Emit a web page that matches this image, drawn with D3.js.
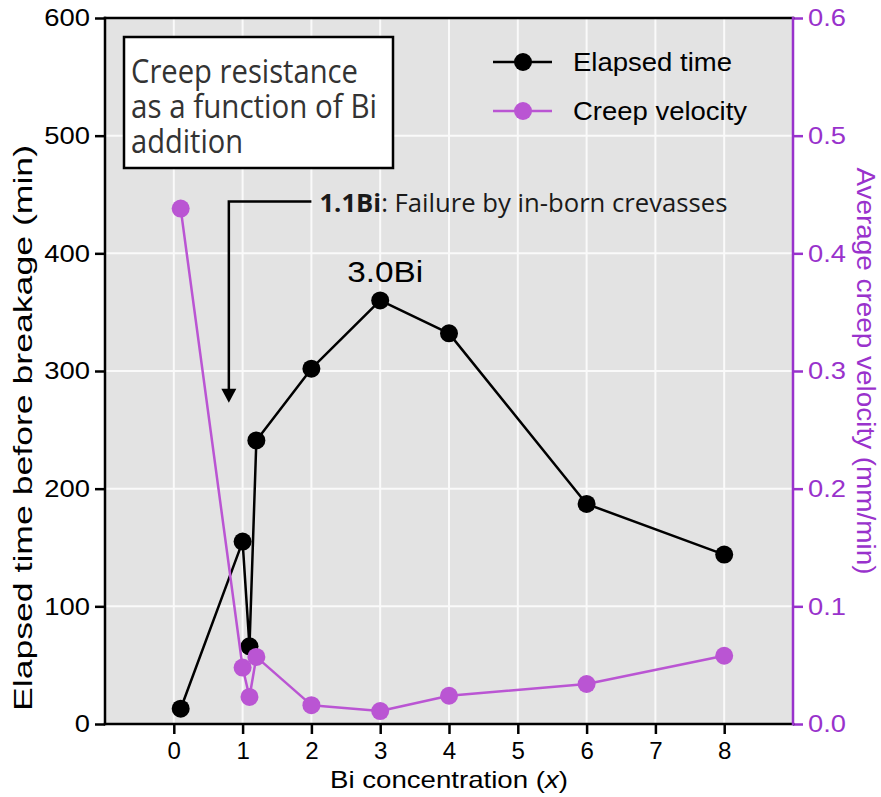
<!DOCTYPE html>
<html>
<head>
<meta charset="utf-8">
<script src="https://cdn.jsdelivr.net/npm/d3@7"></script>
<style>
  body { margin: 0; background: #fff; }
  svg { display: block; }
</style>
</head>
<body>
<svg id="chart" width="881" height="797"></svg>
<script>
// Bi content of each alloy (x in Sn–xBi)
const concentration = [0.1, 1.0, 1.1, 1.2, 2, 3, 4, 6, 8];
// Elapsed time before breakage (min)
const elapsedTime = [13, 155, 66, 241, 302, 360, 332, 187, 144];
// Average creep velocity (mm/min)
const creepVelocity = [0.438, 0.048, 0.023, 0.057, 0.016, 0.011, 0.024, 0.034, 0.058];

const xTicks = [0, 1, 2, 3, 4, 5, 6, 7, 8];
const leftTicks = [0, 100, 200, 300, 400, 500, 600];
const rightTicks = [0, 0.1, 0.2, 0.3, 0.4, 0.5, 0.6];
const seriesNames = ["Elapsed time", "Creep velocity"];
const boxLines = ["Creep resistance", "as a function of Bi", "addition"];

const W = 881, H = 797;
const margin = { top: 18, right: 88, bottom: 73, left: 105 };
const FONT = "'Liberation Sans', Arial, sans-serif";
const NOTE_FONT = "'Open Sans', 'Noto Sans', sans-serif";
const BLACK = "#000";
const AXIS_PURPLE = "#9932CC";
const SERIES_PURPLE = "#BA55D3";

const svg = d3.select("#chart");

// widen glyphs by factor k (the typeface used here is set wider than Arial)
function stretch(sel, k) {
  sel.each(function () {
    const L = this.getComputedTextLength();
    this.setAttribute("textLength", (L * k).toFixed(1));
    this.setAttribute("lengthAdjust", "spacingAndGlyphs");
  });
}
function fitTo(sel, width) {
  sel.attr("textLength", width).attr("lengthAdjust", "spacingAndGlyphs");
}

const x = d3.scaleLinear().domain([-1, 9]).range([margin.left, W - margin.right]);
const yL = d3.scaleLinear().domain([0, 600]).range([H - margin.bottom, margin.top]);
const yR = d3.scaleLinear().domain([0, 0.6]).range([H - margin.bottom, margin.top]);

const [x0, x1] = x.range();
const [yb, yt] = yL.range();

// panel
svg.append("rect")
  .attr("x", x0).attr("y", yt)
  .attr("width", x1 - x0).attr("height", yb - yt)
  .attr("fill", "#e3e3e3");

// grid
const grid = svg.append("g").attr("stroke", "#fafafa").attr("stroke-width", 2);
grid.selectAll(".gx").data(xTicks).join("line")
  .attr("x1", d => x(d)).attr("x2", d => x(d))
  .attr("y1", yt).attr("y2", yb);
grid.selectAll(".gy").data(leftTicks.filter(d => d > 0 && d < 600)).join("line")
  .attr("x1", x0).attr("x2", x1)
  .attr("y1", d => yL(d)).attr("y2", d => yL(d));

// axes
function styleAxis(g, color, size, k) {
  g.select(".domain").remove();
  g.selectAll(".tick line").attr("stroke", color).attr("stroke-width", 2.5);
  g.selectAll(".tick text").attr("fill", color)
    .style("font-family", FONT).style("font-size", size + "px")
    .call(stretch, k);
}

svg.append("g")
  .attr("transform", `translate(${x0},0)`)
  .call(d3.axisLeft(yL).tickValues(leftTicks).tickSize(10).tickPadding(5).tickFormat(d3.format("d")))
  .call(g => styleAxis(g, BLACK, 24, 1.14));

svg.append("g")
  .attr("transform", `translate(0,${yb})`)
  .call(d3.axisBottom(x).tickValues(xTicks).tickSize(10).tickPadding(9).tickFormat(d3.format("d")))
  .call(g => styleAxis(g, BLACK, 23, 1.05));

svg.append("g")
  .attr("transform", `translate(${x1},0)`)
  .call(d3.axisRight(yR).tickValues(rightTicks).tickSize(10).tickPadding(5).tickFormat(d3.format(".1f")))
  .call(g => styleAxis(g, AXIS_PURPLE, 24, 1.14));

// frame lines
const frame = svg.append("g").attr("stroke-width", 2.5).attr("stroke-linecap", "square");
frame.append("line").attr("x1", x0).attr("x2", x1).attr("y1", yt).attr("y2", yt).attr("stroke", BLACK);
frame.append("line").attr("x1", x0).attr("x2", x1).attr("y1", yb).attr("y2", yb).attr("stroke", BLACK);
frame.append("line").attr("x1", x0).attr("x2", x0).attr("y1", yt).attr("y2", yb).attr("stroke", BLACK);
frame.append("line").attr("x1", x1).attr("x2", x1).attr("y1", yt).attr("y2", yb).attr("stroke", AXIS_PURPLE);

// axis titles
svg.append("text")
  .attr("x", (x0 + x1) / 2).attr("y", 788)
  .attr("text-anchor", "middle")
  .style("font-family", FONT).style("font-size", "24px")
  .call(t => {
    t.append("tspan").text("Bi concentration (");
    t.append("tspan").style("font-style", "italic").text("x");
    t.append("tspan").text(")");
  })
  .call(fitTo, 238);

svg.append("text")
  .attr("transform", `translate(32,428) rotate(-90)`)
  .attr("text-anchor", "middle")
  .style("font-family", FONT).style("font-size", "25px")
  .text("Elapsed time before breakage (min)")
  .call(fitTo, 566);

svg.append("text")
  .attr("transform", `translate(857,${(yt + yb) / 2}) rotate(90)`)
  .attr("text-anchor", "middle")
  .attr("fill", AXIS_PURPLE)
  .style("font-family", FONT).style("font-size", "25px")
  .text("Average creep velocity (mm/min)")
  .call(fitTo, 407);

// series
const pts = concentration.map((c, i) => ({ c, t: elapsedTime[i], v: creepVelocity[i] }));

function drawSeries(yScale, key, color) {
  const g = svg.append("g");
  g.append("path")
    .datum(pts)
    .attr("fill", "none").attr("stroke", color).attr("stroke-width", 2.5)
    .attr("stroke-linejoin", "round")
    .attr("d", d3.line().x(d => x(d.c)).y(d => yScale(d[key])));
  g.selectAll("circle").data(pts).join("circle")
    .attr("cx", d => x(d.c)).attr("cy", d => yScale(d[key]))
    .attr("r", 9).attr("fill", color);
}
drawSeries(yL, "t", BLACK);
drawSeries(yR, "v", SERIES_PURPLE);

// legend
const legend = svg.append("g");
const legendWidths = [159, 174];
[BLACK, SERIES_PURPLE].forEach((color, i) => {
  const ly = 62 + i * 49;
  legend.append("line").attr("x1", 493).attr("x2", 552).attr("y1", ly).attr("y2", ly)
    .attr("stroke", color).attr("stroke-width", 2.5);
  legend.append("circle").attr("cx", 523).attr("cy", ly).attr("r", 9).attr("fill", color);
  legend.append("text").attr("x", 573).attr("y", ly + 9)
    .style("font-family", FONT).style("font-size", "26px")
    .text(seriesNames[i])
    .call(fitTo, legendWidths[i]);
});

// title box
const boxWidths = [227, 246, 112];
svg.append("rect")
  .attr("x", 124).attr("y", 37).attr("width", 269).attr("height", 131)
  .attr("fill", "#fff").attr("stroke", BLACK).attr("stroke-width", 2.5);
svg.selectAll(".boxline").data(boxLines).join("text")
  .attr("x", 131).attr("y", (d, i) => 83 + i * 35)
  .attr("fill", "#333")
  .style("font-family", NOTE_FONT).style("font-size", "32px")
  .text(d => d)
  .each(function (d, i) { d3.select(this).call(fitTo, boxWidths[i]); });

// peak label
const peak = pts[elapsedTime.indexOf(d3.max(elapsedTime))];
svg.append("text")
  .attr("x", x(peak.c) + 5).attr("y", yL(peak.t) - 18)
  .attr("text-anchor", "middle")
  .style("font-family", FONT).style("font-size", "30px")
  .text("3.0Bi")
  .call(fitTo, 76);

// failure note with elbow arrow (positions in data units)
const note = { textX: 2.0, lineY: 444, arrowX: 0.8, tipY: 273 };
svg.append("path")
  .attr("fill", "none").attr("stroke", BLACK).attr("stroke-width", 2.5)
  .attr("d", `M${x(note.textX)},${yL(note.lineY)}H${x(note.arrowX)}V${yL(note.tipY) - 12}`);
svg.append("path")
  .attr("fill", BLACK)
  .attr("d", `M${x(note.arrowX) - 7.5},${yL(note.tipY) - 14}L${x(note.arrowX) + 7.5},${yL(note.tipY) - 14}L${x(note.arrowX)},${yL(note.tipY)}Z`);
svg.append("text")
  .attr("x", x(note.textX) + 8).attr("y", yL(note.lineY) + 10)
  .attr("fill", "#1a1a1a")
  .style("font-family", NOTE_FONT).style("font-size", "25px")
  .call(t => {
    t.append("tspan").style("font-weight", "bold").text("1.1Bi");
    t.append("tspan").text(": Failure by in-born crevasses");
  })
  .call(fitTo, 408);
</script>
</body>
</html>
